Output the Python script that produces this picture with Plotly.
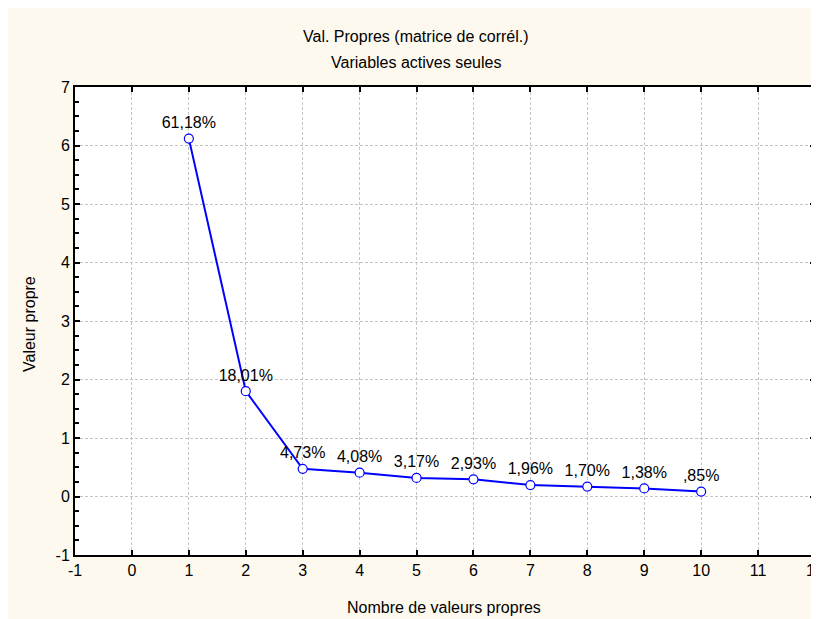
import plotly.graph_objects as go

components = [1, 2, 3, 4, 5, 6, 7, 8, 9, 10]
eigenvalues = [6.118, 1.801, 0.473, 0.408, 0.317, 0.293, 0.196, 0.170, 0.138, 0.085]
pct_labels = ["61,18%", "18,01%", "4,73%", "4,08%", "3,17%", "2,93%", "1,96%", "1,70%", "1,38%", ",85%"]
x_ticks = list(range(-1, 13))
y_ticks = list(range(-1, 8))

W, H = 819, 611
L, R, T, B = 67, 12, 79, 64
pw, ph = W - L - R, H - T - B

def px_x(p):
    return (p - L) / pw

def px_y(p):
    return (H - B - p) / ph

cream = "#FEF9EE"
font = "Liberation Sans, Arial, sans-serif"

fig = go.Figure()
fig.add_trace(go.Scatter(
    x=components, y=eigenvalues, mode="lines+markers+text",
    text=pct_labels, textposition="top center",
    textfont=dict(family=font, size=16, color="black"),
    line=dict(color="#0000FF", width=2),
    marker=dict(symbol="circle", size=9, color="white", line=dict(color="#0000FF", width=1.2)),
    cliponaxis=False, showlegend=False,
))

axis_common = dict(
    showline=True, linecolor="black", linewidth=2, mirror="ticks",
    ticks="inside", ticklen=5, tickwidth=2, tickcolor="black",
    showgrid=True, gridcolor="#C4C4C4", griddash="3px,2px", gridwidth=1,
    zeroline=False, tickfont=dict(family=font, size=16, color="black"),
    ticklabeloverflow="allow",
)

fig.update_xaxes(range=[-1, 12], tickvals=x_ticks, ticktext=[str(v) for v in x_ticks],
                 **axis_common)
fig.update_yaxes(range=[-1, 7], tickvals=y_ticks, ticktext=[str(v) for v in y_ticks],
                 minor=dict(ticks="inside", ticklen=4, tickwidth=2, tickcolor="black", dtick=0.25, showgrid=False),
                 **axis_common)

annotations = [
    dict(text="Val. Propres (matrice de corrél.)", xref="paper", yref="paper", x=px_x(408), y=px_y(29),
         showarrow=False, font=dict(family=font, size=16, color="black"), xanchor="center", yanchor="middle"),
    dict(text="Variables actives seules", xref="paper", yref="paper", x=px_x(408), y=px_y(55),
         showarrow=False, font=dict(family=font, size=16, color="black"), xanchor="center", yanchor="middle"),
    dict(text="Nombre de valeurs propres", xref="paper", yref="paper", x=px_x(436), y=px_y(599),
         showarrow=False, font=dict(family=font, size=16, color="black"), xanchor="center", yanchor="middle"),
    dict(text="Valeur propre", xref="paper", yref="paper", x=px_x(21), y=px_y(316), textangle=-90,
         showarrow=False, font=dict(family=font, size=16, color="black"), xanchor="center", yanchor="middle"),
]

fig.update_layout(
    width=W, height=H, margin=dict(l=L, r=R, t=T, b=B, autoexpand=False),
    paper_bgcolor=cream, plot_bgcolor="white",
    annotations=annotations,
)

fig.write_html("out.html")
